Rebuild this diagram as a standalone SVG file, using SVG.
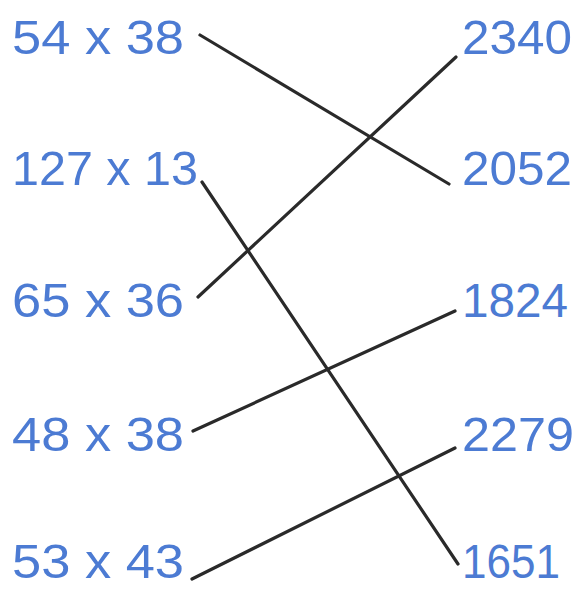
<svg xmlns="http://www.w3.org/2000/svg" width="584" height="589" viewBox="0 0 584 589">
<style>
.t{font-family:"Liberation Sans",Arial,sans-serif;font-size:48px;fill:#4c7bd3}
.c line{stroke:#2a2a2a;stroke-width:3.2;stroke-linecap:round}
</style>
<rect width="584" height="589" fill="#ffffff"/>
<g id="left-1"><text class="t" x="12" y="54" textLength="172" lengthAdjust="spacingAndGlyphs">54 x 38</text></g>
<g id="left-2"><text class="t" x="12" y="185" textLength="186" lengthAdjust="spacingAndGlyphs">127 x 13</text></g>
<g id="left-3"><text class="t" x="12" y="317" textLength="172" lengthAdjust="spacingAndGlyphs">65 x 36</text></g>
<g id="left-4"><text class="t" x="12" y="451" textLength="172" lengthAdjust="spacingAndGlyphs">48 x 38</text></g>
<g id="left-5"><text class="t" x="12" y="578" textLength="172" lengthAdjust="spacingAndGlyphs">53 x 43</text></g>
<g id="right-1"><text class="t" x="462" y="54" textLength="110" lengthAdjust="spacingAndGlyphs">2340</text></g>
<g id="right-2"><text class="t" x="462" y="185" textLength="110" lengthAdjust="spacingAndGlyphs">2052</text></g>
<g id="right-3"><text class="t" x="462" y="317" textLength="106" lengthAdjust="spacingAndGlyphs">1824</text></g>
<g id="right-4"><text class="t" x="462" y="451" textLength="112" lengthAdjust="spacingAndGlyphs">2279</text></g>
<g id="right-5"><text class="t" x="462" y="578" textLength="98" lengthAdjust="spacingAndGlyphs">1651</text></g>
<g class="c" id="connectors">
<line x1="200" y1="35" x2="449" y2="184"/>
<line x1="198" y1="297" x2="456" y2="57"/>
<line x1="202" y1="182" x2="458" y2="564"/>
<line x1="193" y1="431" x2="455" y2="311"/>
<line x1="192" y1="579" x2="455" y2="448"/>
</g>
</svg>
